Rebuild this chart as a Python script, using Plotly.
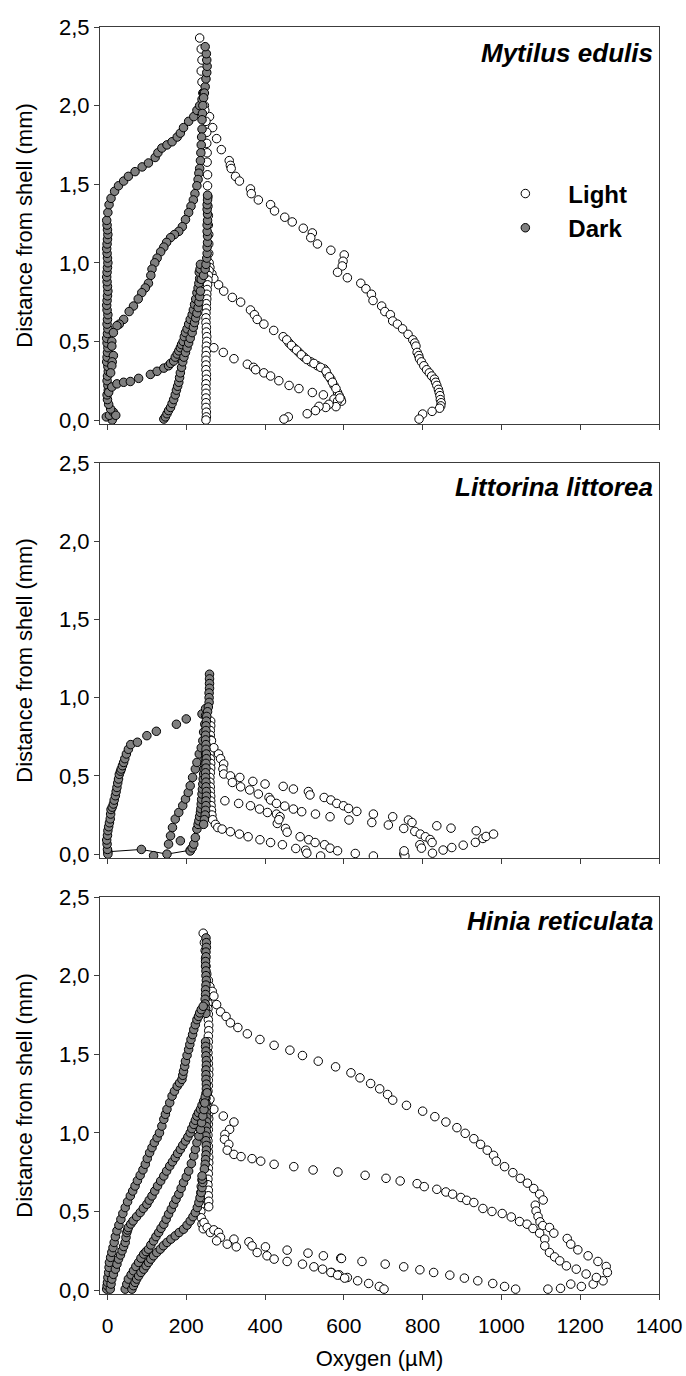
import plotly.graph_objects as go
from plotly.subplots import make_subplots

# ---------------- X axis / Y axis labels ----------------
x_ticks = [0, 200, 400, 600, 800, 1000, 1200, 1400]
y_ticks = [0.0, 0.5, 1.0, 1.5, 2.0, 2.5]
y_ticklabels = ["0,0", "0,5", "1,0", "1,5", "2,0", "2,5"]
species = ["Mytilus edulis", "Littorina littorea", "Hinia reticulata"]
series_names = ["Light", "Dark"]

# ---------------- Mytilus edulis : Light ----------------
ml1_x = [234, 238, 240, 238, 240, 242, 246, 259, 267, 277, 289, 309, 312, 314, 325, 335, 363, 365, 383, 414, 424, 450, 469, 497, 520, 516, 533, 567, 601, 598, 596, 584, 609, 643, 656, 670, 674, 696, 704, 718, 724, 736, 749, 763, 775, 780, 783, 786, 790, 792, 797, 803, 810, 817, 823, 830, 833, 836, 840, 842, 844, 845, 847, 846, 843, 824, 800, 791]
ml1_y = [2.43, 2.36, 2.29, 2.22, 2.15, 2.08, 2.0, 1.93, 1.86, 1.79, 1.72, 1.65, 1.62, 1.60, 1.55, 1.52, 1.47, 1.44, 1.40, 1.37, 1.33, 1.29, 1.26, 1.22, 1.19, 1.16, 1.12, 1.08, 1.05, 1.01, 0.98, 0.94, 0.905, 0.87, 0.835, 0.80, 0.76, 0.725, 0.69, 0.67, 0.63, 0.61, 0.58, 0.545, 0.51, 0.49, 0.47, 0.43, 0.41, 0.39, 0.37, 0.345, 0.32, 0.30, 0.28, 0.26, 0.24, 0.22, 0.195, 0.175, 0.155, 0.13, 0.11, 0.09, 0.075, 0.055, 0.038, 0.006]
ml2_x = [247, 250, 252, 252, 253, 253, 254, 254, 255, 255, 256, 256, 257, 257, 257, 258, 260, 265, 270, 282, 295, 317, 338, 363, 373, 380, 397, 422, 446, 461, 473, 486, 499, 516, 533, 550, 558, 567, 575, 584, 592, 594]
ml2_y = [1.97, 1.90, 1.83, 1.76, 1.70, 1.64, 1.56, 1.49, 1.42, 1.36, 1.30, 1.24, 1.18, 1.12, 1.06, 1.0, 0.97, 0.93, 0.90, 0.86, 0.82, 0.78, 0.75, 0.70, 0.67, 0.64, 0.61, 0.57, 0.53, 0.49, 0.46, 0.43, 0.40, 0.37, 0.345, 0.325, 0.29, 0.26, 0.22, 0.175, 0.135, 0.12]
ml2b_x = [455, 467, 480, 492, 506, 524, 541, 555, 563, 571, 580, 588]
ml2b_y = [0.51, 0.475, 0.445, 0.415, 0.385, 0.36, 0.335, 0.31, 0.275, 0.24, 0.20, 0.155]
ml3_x = [258, 256, 255, 254, 253, 252, 252, 251, 251, 250, 250, 250, 251, 251, 252, 252, 251, 251, 250, 250, 250, 250, 251, 251, 250, 250, 250, 250, 250, 250, 251, 251, 250]
ml3_y = [0.95, 0.92, 0.89, 0.86, 0.83, 0.80, 0.77, 0.74, 0.71, 0.68, 0.65, 0.62, 0.59, 0.56, 0.53, 0.50, 0.47, 0.44, 0.41, 0.38, 0.35, 0.32, 0.29, 0.26, 0.23, 0.20, 0.17, 0.14, 0.11, 0.08, 0.05, 0.02, 0.0]
ml4_x = [270, 294, 321, 355, 371, 376, 397, 414, 435, 461, 486, 520, 548, 575, 584, 590, 580, 562, 554, 537, 528, 507, 459, 448]
ml4_y = [0.46, 0.43, 0.39, 0.355, 0.335, 0.32, 0.30, 0.28, 0.25, 0.22, 0.20, 0.175, 0.16, 0.133, 0.12, 0.14, 0.085, 0.10, 0.08, 0.087, 0.06, 0.04, 0.02, 0.006]

# ---------------- Mytilus edulis : Dark ----------------
md1_x = [12, -3, 5, 15, 21,
         8, 3, 0, -1, 2, 1, -1, 0, 2, 1, -2, -1, 0, 1, -1, -2, 0, 1, -1, 0, 1, -1, -2, -1, 0, 1, 0, -1, -2, -1, 0, 1, 0, -1, -2, -1, 0, 1, 0, -1, -2,
         1, 4, 9, 18, 28, 41, 53, 70, 88, 104, 121, 128, 138, 151, 164, 177, 185, 193, 206, 219, 227, 234, 240, 244, 248, 250, 252, 253, 252, 251, 248]
md1_y = [0.0, 0.02, 0.03, 0.05, 0.03,
         0.07, 0.10, 0.13, 0.16, 0.19, 0.22, 0.25, 0.28, 0.31, 0.34, 0.37, 0.40, 0.43, 0.46, 0.49, 0.52, 0.55, 0.58, 0.61, 0.64, 0.67, 0.70, 0.73, 0.76, 0.79, 0.82, 0.85, 0.88, 0.91, 0.94, 0.97, 1.00, 1.03, 1.06, 1.09, 1.12, 1.15, 1.18, 1.21, 1.24, 1.27,
         1.32, 1.37, 1.41, 1.455, 1.49, 1.52, 1.55, 1.58, 1.61, 1.635, 1.67, 1.70, 1.73, 1.75, 1.77, 1.80, 1.825, 1.86, 1.90, 1.93, 1.97, 2.0, 2.04, 2.08, 2.12, 2.17, 2.21, 2.25, 2.29, 2.33, 2.375]
md2_x = [246, 244, 242, 241, 240, 240, 239, 238, 237, 236, 234, 232, 230, 227, 222, 218, 212, 206, 198, 190, 181, 170, 160, 150, 143, 135, 126, 120, 113, 110, 104, 96, 87, 78, 66, 55, 41, 30, 24, 15, 11, 11, 15, 12, 11, 8]
md2_y = [2.08, 2.05, 2.0, 1.95, 1.91, 1.85, 1.80, 1.75, 1.70, 1.65, 1.60, 1.57, 1.53, 1.49, 1.44, 1.40, 1.36, 1.32, 1.275, 1.23, 1.20, 1.18, 1.16, 1.13, 1.10, 1.07, 1.03, 1.0, 0.96, 0.92, 0.87, 0.84, 0.81, 0.77, 0.725, 0.69, 0.64, 0.61, 0.60, 0.556, 0.50, 0.47, 0.41, 0.37, 0.345, 0.30]
md3_x = [3, 11, 24, 41, 58, 79, 109, 126, 143, 155, 160, 168, 172, 177, 181, 185, 188, 192, 195, 198, 202, 206, 210, 215, 218, 221, 224, 227, 230, 232, 234, 233, 235, 236]
md3_y = [0.176, 0.21, 0.23, 0.24, 0.245, 0.265, 0.29, 0.31, 0.33, 0.345, 0.36, 0.375, 0.40, 0.42, 0.44, 0.46, 0.48, 0.50, 0.53, 0.556, 0.58, 0.61, 0.64, 0.67, 0.70, 0.735, 0.77, 0.81, 0.84, 0.87, 0.90, 0.94, 0.96, 0.99]
md4_x = [143, 147, 151, 155, 160, 164, 168, 172, 175, 178, 181, 183, 185, 188, 191, 194, 198, 202, 206, 210, 215, 218, 221, 224, 227, 230, 232, 234, 236, 238]
md4_y = [0.006, 0.02, 0.04, 0.06, 0.08, 0.105, 0.13, 0.16, 0.19, 0.215, 0.24, 0.27, 0.30, 0.335, 0.37, 0.40, 0.43, 0.46, 0.49, 0.52, 0.556, 0.59, 0.62, 0.65, 0.68, 0.715, 0.75, 0.785, 0.82, 0.895]
md5_x = [244, 248, 250, 252, 253, 253, 254, 254, 253, 253, 254, 254, 253, 253, 254, 254]
md5_y = [0.92, 0.96, 0.99, 1.03, 1.06, 1.10, 1.13, 1.17, 1.20, 1.24, 1.27, 1.31, 1.34, 1.37, 1.40, 1.43]

# ---------------- Littorina littorea : Light ----------------
ll1_x = [262, 262, 261, 261, 262, 261, 260, 260, 261, 262, 262, 261, 260, 260, 261, 261, 262, 262, 263, 264, 265, 267, 274, 280, 291, 312, 335, 357, 387, 414, 444, 478, 503, 506, 541, 629, 675, 752, 755, 793, 797, 825, 852, 874, 903, 934, 953, 961, 980]
ll1_y = [0.85, 0.82, 0.79, 0.76, 0.73, 0.70, 0.67, 0.64, 0.61, 0.58, 0.55, 0.52, 0.49, 0.46, 0.43, 0.40, 0.37, 0.34, 0.31, 0.28, 0.25, 0.22, 0.19, 0.17, 0.16, 0.143, 0.128, 0.111, 0.092, 0.074, 0.06, 0.036, 0.025, 0.006, -0.012, 0.004, -0.012, 0.0, -0.012, 0.06, 0.038, 0.006, 0.026, 0.042, 0.057, 0.075, 0.10, 0.113, 0.128]
ll2_x = [264, 270, 282, 287, 295, 293, 295, 312, 336, 369, 400, 446, 472, 510, 514, 550, 567, 582, 599, 612, 633, 675, 724, 764, 773, 780, 794, 807, 819, 824]
ll2_y = [0.725, 0.68, 0.64, 0.61, 0.576, 0.544, 0.512, 0.50, 0.49, 0.465, 0.448, 0.433, 0.416, 0.40, 0.378, 0.362, 0.346, 0.324, 0.309, 0.292, 0.273, 0.256, 0.239, 0.218, 0.202, 0.145, 0.128, 0.111, 0.093, 0.074]
ll3_x = [317, 338, 361, 383, 410, 414, 429, 450, 472, 493, 528, 565, 613, 671, 713, 752, 753, 836, 872, 936]
ll3_y = [0.458, 0.43, 0.41, 0.384, 0.362, 0.346, 0.324, 0.307, 0.288, 0.271, 0.256, 0.239, 0.218, 0.202, 0.186, 0.164, 0.021, 0.181, 0.166, 0.149]
ll4_x = [298, 333, 363, 386, 406, 429, 438, 431, 435, 452, 456, 489, 511, 527, 551, 565, 584]
ll4_y = [0.341, 0.324, 0.309, 0.288, 0.266, 0.256, 0.239, 0.196, 0.22, 0.164, 0.14, 0.111, 0.092, 0.074, 0.06, 0.038, 0.021]

# ---------------- Littorina littorea : Dark ----------------
ld1_x = [1, 0, -1, -2, 0, 1, 3, 5, 7, 8, 9, 12, 15, 17, 20, 22, 24, 26, 28, 30, 33, 35, 38, 41, 44, 48, 53, 59, 76, 100, 124, 175, 200, 240, 249]
ld1_y = [0.0, 0.03, 0.064, 0.09, 0.12, 0.15, 0.175, 0.20, 0.225, 0.256, 0.285, 0.30, 0.32, 0.345, 0.373, 0.40, 0.426, 0.455, 0.48, 0.51, 0.53, 0.544, 0.565, 0.586, 0.61, 0.64, 0.67, 0.70, 0.715, 0.757, 0.785, 0.83, 0.864, 0.896, 0.93]
ld_line_x = [1, 86, 151, 210]
ld_line_y = [0.015, 0.03, 0.0, 0.025]
ld2_x = [117, 155, 160, 165, 172, 181, 185, 191, 198, 205, 210, 216, 223, 227, 233, 238, 242, 244, 247, 249]
ld2_y = [-0.01, 0.064, 0.117, 0.17, 0.224, 0.266, 0.085, 0.31, 0.352, 0.394, 0.437, 0.49, 0.544, 0.586, 0.64, 0.68, 0.725, 0.78, 0.83, 0.885]
ld3_x = [210, 215, 219, 223, 227, 230, 232, 234, 236, 237, 238, 239, 240, 241, 242, 243, 244, 245, 247, 248, 249]
ld3_y = [0.02, 0.04, 0.064, 0.106, 0.16, 0.19, 0.213, 0.24, 0.266, 0.29, 0.32, 0.35, 0.384, 0.415, 0.448, 0.48, 0.512, 0.545, 0.576, 0.61, 0.64]
ld4_x = [259, 259, 259, 259, 258, 258, 258, 256, 254, 252, 251, 250, 250, 249, 249, 250, 250, 251, 251, 250, 250, 249, 249, 250, 250, 251, 251, 250, 250, 249, 248, 246, 244]
ld4_y = [1.15, 1.12, 1.09, 1.06, 1.03, 1.0, 0.97, 0.94, 0.91, 0.88, 0.85, 0.82, 0.79, 0.76, 0.73, 0.70, 0.67, 0.64, 0.61, 0.58, 0.55, 0.52, 0.49, 0.46, 0.43, 0.40, 0.37, 0.34, 0.31, 0.28, 0.25, 0.22, 0.19]

# ---------------- Hinia reticulata : Light ----------------
hl1_x = [243, 246, 248, 249, 250, 252, 256, 260, 266, 270, 277, 287, 301, 312, 331, 355, 387, 423, 463, 495, 535, 579, 618, 641, 668, 691, 711, 724, 759, 800, 831, 859, 887, 908, 930, 947, 964, 980, 987, 1008, 1029, 1048, 1066, 1082, 1097, 1106, 1086, 1088, 1093, 1098, 1105, 1122, 1133, 1167, 1176, 1194, 1220, 1245, 1266, 1269, 1258, 1233, 1203, 1176, 1150, 1118]
hl1_y = [2.27, 2.21, 2.16, 2.11, 2.06, 2.01, 1.97, 1.93, 1.90, 1.87, 1.816, 1.77, 1.74, 1.70, 1.67, 1.63, 1.594, 1.557, 1.526, 1.492, 1.456, 1.42, 1.382, 1.35, 1.314, 1.28, 1.244, 1.208, 1.175, 1.138, 1.103, 1.069, 1.033, 0.997, 0.963, 0.927, 0.89, 0.857, 0.82, 0.785, 0.747, 0.711, 0.68, 0.646, 0.61, 0.573, 0.54, 0.503, 0.468, 0.434, 0.41, 0.398, 0.362, 0.328, 0.292, 0.256, 0.218, 0.182, 0.15, 0.112, 0.059, 0.038, 0.023, 0.038, 0.011, 0.006]
hlc_x = [257, 256, 256, 255, 255, 256, 256, 257, 257, 256, 256, 255, 255, 256, 256, 257, 257, 256, 256, 255, 255, 256, 256, 257, 257, 256, 256, 255, 255, 256, 256, 257, 257, 256, 256, 255, 255, 256, 256, 257, 257]
hlc_y = [1.93, 1.895, 1.86, 1.825, 1.79, 1.755, 1.72, 1.685, 1.65, 1.615, 1.58, 1.545, 1.51, 1.475, 1.44, 1.405, 1.37, 1.335, 1.30, 1.265, 1.23, 1.195, 1.16, 1.125, 1.09, 1.055, 1.02, 0.985, 0.95, 0.915, 0.88, 0.845, 0.81, 0.775, 0.74, 0.705, 0.67, 0.635, 0.60, 0.565, 0.53]
hl2_x = [260, 270, 294, 321, 310, 298, 297, 308, 304, 321, 339, 367, 389, 423, 473, 522, 585, 654, 707, 743, 786, 804, 836, 859, 876, 897, 912, 930, 953, 976, 1002, 1025, 1046, 1065, 1080, 1097, 1110, 1110, 1122, 1135, 1148, 1165, 1190, 1215, 1241]
hl2_y = [1.213, 1.15, 1.107, 1.069, 1.022, 0.99, 0.959, 0.927, 0.89, 0.863, 0.849, 0.836, 0.82, 0.80, 0.785, 0.764, 0.751, 0.73, 0.711, 0.694, 0.677, 0.658, 0.641, 0.624, 0.61, 0.589, 0.571, 0.557, 0.519, 0.50, 0.487, 0.465, 0.436, 0.419, 0.392, 0.362, 0.324, 0.281, 0.239, 0.211, 0.186, 0.154, 0.133, 0.102, 0.08]
hl3_x = [240, 238, 237, 236, 236, 237, 238, 240, 243, 245, 253, 261, 270, 282, 287, 277, 304, 321, 327, 359, 367, 380, 401, 405, 423, 456, 456, 495, 509, 524, 548, 546, 569, 592, 588, 609, 594, 646, 705, 752, 793, 828, 869, 906, 940, 978, 1008, 1036, 567, 584, 602, 635, 663, 690, 702]
hl3_y = [0.70, 0.66, 0.62, 0.58, 0.54, 0.50, 0.46, 0.42, 0.39, 0.43, 0.398, 0.366, 0.383, 0.366, 0.335, 0.313, 0.292, 0.324, 0.275, 0.307, 0.281, 0.239, 0.275, 0.218, 0.197, 0.254, 0.182, 0.165, 0.235, 0.148, 0.218, 0.133, 0.112, 0.203, 0.097, 0.08, 0.201, 0.182, 0.165, 0.148, 0.129, 0.112, 0.095, 0.076, 0.059, 0.042, 0.023, 0.006, 0.112, 0.095, 0.076, 0.059, 0.042, 0.023, 0.006]

# ---------------- Hinia reticulata : Dark ----------------
hdc_x = [250, 251, 251, 250, 250, 249, 249, 250, 250, 251, 250, 249, 249, 248, 248, 249, 250, 249, 249, 250, 250, 251, 251, 250, 250, 250, 251, 251, 250, 250, 250, 251, 251, 252, 252, 251, 251, 250, 250, 251, 251, 250, 249, 248, 246]
hdc_y = [2.24, 2.21, 2.18, 2.15, 2.12, 2.09, 2.06, 2.03, 2.0, 1.97, 1.94, 1.91, 1.88, 1.85, 1.82, 1.79, 1.76, 1.58, 1.55, 1.52, 1.49, 1.46, 1.43, 1.40, 1.37, 1.34, 1.31, 1.28, 1.25, 1.22, 1.19, 1.16, 1.13, 1.10, 1.07, 1.04, 1.01, 0.98, 0.95, 0.92, 0.89, 0.86, 0.83, 0.80, 0.77]
hd1_x = [-2, -1, 0, 1, 3, 4, 5, 8, 11, 14, 17, 20, 24, 29, 34, 39, 45, 51, 58, 64, 70, 76, 83, 90, 96, 101, 107, 113, 119, 126, 132, 138, 143, 147, 151, 158, 164, 170, 177, 183, 189, 191, 193, 196, 198, 202, 206, 209, 212, 216, 219, 223, 227, 231, 234, 238, 243]
hd1_y = [0.006, 0.028, 0.049, 0.08, 0.112, 0.144, 0.176, 0.208, 0.24, 0.27, 0.303, 0.34, 0.377, 0.413, 0.45, 0.487, 0.525, 0.562, 0.599, 0.63, 0.662, 0.696, 0.73, 0.765, 0.80, 0.837, 0.874, 0.906, 0.938, 0.969, 1.0, 1.043, 1.086, 1.118, 1.15, 1.192, 1.234, 1.265, 1.297, 1.318, 1.34, 1.366, 1.392, 1.424, 1.456, 1.493, 1.53, 1.562, 1.594, 1.625, 1.657, 1.688, 1.72, 1.741, 1.763, 1.784, 1.805]
hd2_x = [7, 9, 11, 15, 20, 24, 28, 33, 37, 41, 45, 47, 49, 51, 53, 59, 65, 74, 83, 91, 100, 106, 113, 120, 127, 135, 143, 150, 158, 165, 172, 178, 185, 191, 198, 204, 210, 214, 219, 223, 227, 231, 236, 240, 244, 248, 253]
hd2_y = [0.006, 0.038, 0.07, 0.10, 0.133, 0.165, 0.197, 0.223, 0.25, 0.277, 0.303, 0.335, 0.366, 0.382, 0.398, 0.42, 0.44, 0.467, 0.493, 0.52, 0.546, 0.572, 0.599, 0.63, 0.662, 0.694, 0.726, 0.757, 0.789, 0.816, 0.843, 0.869, 0.895, 0.921, 0.948, 0.974, 1.0, 1.027, 1.054, 1.08, 1.107, 1.128, 1.15, 1.176, 1.202, 1.228, 1.255]
hd3_x = [45, 49, 53, 60, 66, 72, 79, 85, 92, 98, 104, 110, 117, 123, 130, 136, 143, 149, 155, 162, 168, 174, 181, 187, 193, 200, 206, 213, 219, 223, 227, 232, 236, 239, 242, 245, 247]
hd3_y = [0.006, 0.038, 0.07, 0.097, 0.123, 0.15, 0.176, 0.203, 0.229, 0.245, 0.26, 0.287, 0.313, 0.34, 0.366, 0.393, 0.419, 0.451, 0.483, 0.515, 0.546, 0.578, 0.61, 0.647, 0.684, 0.72, 0.757, 0.805, 0.853, 0.895, 0.938, 0.98, 1.022, 1.065, 1.107, 1.148, 1.19]
hd4_x = [62, 66, 70, 74, 79, 85, 92, 98, 104, 110, 117, 125, 134, 142, 151, 161, 172, 182, 193, 202, 210, 217, 223, 228, 232, 235, 238, 240, 242, 241, 240]
hd4_y = [0.006, 0.028, 0.049, 0.07, 0.09, 0.112, 0.133, 0.155, 0.176, 0.197, 0.218, 0.239, 0.26, 0.282, 0.303, 0.324, 0.345, 0.366, 0.387, 0.413, 0.44, 0.467, 0.493, 0.525, 0.557, 0.588, 0.62, 0.652, 0.684, 0.705, 0.726]

# ---------------- figure ----------------
FONT = "Liberation Sans, Arial, Helvetica, sans-serif"
LIGHT_MK = dict(symbol="circle", size=8.5, color="white", line=dict(color="black", width=1))
DARK_MK = dict(symbol="circle", size=8.5, color="#7f7f7f", line=dict(color="black", width=1))

panels = [
    (1, [(ml1_x, ml1_y), (ml2_x, ml2_y), (ml2b_x, ml2b_y), (ml3_x, ml3_y), (ml4_x, ml4_y)],
        [(md1_x, md1_y), (md2_x, md2_y), (md3_x, md3_y), (md4_x, md4_y), (md5_x, md5_y)]),
    (2, [(ll1_x, ll1_y), (ll2_x, ll2_y), (ll3_x, ll3_y), (ll4_x, ll4_y)],
        [(ld1_x, ld1_y), (ld2_x, ld2_y), (ld3_x, ld3_y), (ld4_x, ld4_y)]),
    (3, [(hlc_x, hlc_y), (hl1_x, hl1_y), (hl2_x, hl2_y), (hl3_x, hl3_y)],
        [(hdc_x, hdc_y), (hd1_x, hd1_y), (hd2_x, hd2_y), (hd3_x, hd3_y), (hd4_x, hd4_y)]),
]

fig = make_subplots(rows=3, cols=1, shared_xaxes=True, vertical_spacing=0.03)

light_shown = False
dark_shown = False
for row, lights, darks in panels:
    for xs, ys in lights:
        fig.add_trace(go.Scatter(x=xs, y=ys, mode="markers", marker=LIGHT_MK,
                                 name=series_names[0], legendgroup="light",
                                 showlegend=not light_shown), row=row, col=1)
        light_shown = True
    if row == 2:
        fig.add_trace(go.Scatter(x=ld_line_x, y=ld_line_y, mode="lines+markers",
                                 line=dict(color="black", width=1), marker=DARK_MK,
                                 name=series_names[1], legendgroup="dark",
                                 showlegend=False), row=row, col=1)
    for xs, ys in darks:
        fig.add_trace(go.Scatter(x=xs, y=ys, mode="markers", marker=DARK_MK,
                                 name=series_names[1], legendgroup="dark",
                                 showlegend=not dark_shown), row=row, col=1)
        dark_shown = True

domains = [[0.6867, 1.0], [0.3441, 0.6559], [0.0, 0.3133]]
axis_line = "#3c3c3c"
for i in range(3):
    sfx = "" if i == 0 else str(i + 1)
    fig.layout["yaxis" + sfx].update(
        domain=domains[i], range=[-0.025, 2.5], tickvals=y_ticks, ticktext=y_ticklabels,
        ticks="outside", ticklen=5, tickcolor=axis_line, showline=True, linecolor=axis_line,
        linewidth=1, mirror=True, showgrid=False, zeroline=False, automargin=False,
        tickfont=dict(family=FONT, size=22, color="black"),
        title=dict(text="Distance from shell (mm)", font=dict(family=FONT, size=22, color="black"),
                   standoff=20),
    )
    fig.layout["xaxis" + sfx].update(
        range=[-19, 1400], tickvals=x_ticks, ticks="outside", ticklen=5, tickcolor=axis_line,
        showline=True, linecolor=axis_line, linewidth=1, mirror=True, showgrid=False,
        zeroline=False, automargin=False, tickfont=dict(family=FONT, size=21, color="black"),
    )
fig.layout.xaxis3.ticklabelstandoff = 8
fig.layout.xaxis3.title = dict(text="Oxygen (µM)", font=dict(family=FONT, size=22, color="black"),
                               standoff=14)

label_y = [0.935, 0.94, 0.94]
for i, name in enumerate(species):
    sfx = "" if i == 0 else str(i + 1)
    fig.add_annotation(text="<b><i>" + name + "</i></b>", xref="x" + sfx + " domain",
                       yref="y" + sfx + " domain", x=0.992, y=label_y[i], xanchor="right",
                       yanchor="middle", showarrow=False,
                       font=dict(family=FONT, size=26, color="black"))

fig.update_layout(
    width=686, height=1376,
    margin=dict(l=100, r=27, t=27, b=82),
    paper_bgcolor="white", plot_bgcolor="white",
    font=dict(family=FONT, color="black"),
    showlegend=True,
    legend=dict(x=0.684, y=0.886, xanchor="left", yanchor="top", bgcolor="rgba(0,0,0,0)",
                font=dict(family=FONT, size=24, color="black", weight="bold"),
                itemwidth=76, traceorder="normal"),
)

fig.write_html("out.html", config={"displayModeBar": False},
               post_script="document.body.style.margin='0';")
